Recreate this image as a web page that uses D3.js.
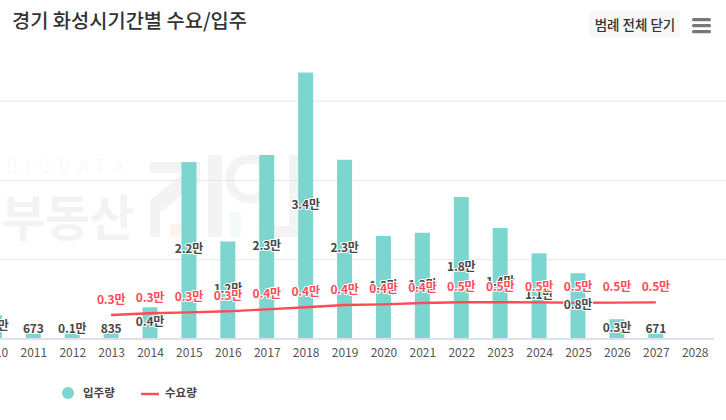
<!DOCTYPE html>
<html><head><meta charset="utf-8">
<script src="https://cdn.jsdelivr.net/npm/d3@7/dist/d3.min.js"></script>
<style>html,body{margin:0;padding:0;background:#fff}svg{display:block;font-family:"Noto Sans CJK KR","Noto Sans",sans-serif}</style>
</head><body><svg id="c" width="726" height="420"></svg>
<script>
const years=[2010,2011,2012,2013,2014,2015,2016,2017,2018,2019,2020,2021,2022,2023,2024,2025,2026,2027,2028];
const supply=[3000,673,700,835,4000,22300,12300,23200,33600,22600,13000,13400,17900,14000,10800,8300,2500,671,null];
const supplyLabels=["0.3만","673","0.1만","835","0.4만","2.2만","1.2만","2.3만","3.4만","2.3만","1.3만","1.3만","1.8만","1.4만","1.1만","0.8만","0.3만","671",""];
const demandYears=[2013,2014,2015,2016,2017,2018,2019,2020,2021,2022,2023,2024,2025,2026,2027];
const demand=[3030,3240,3360,3490,3740,4000,4290,4370,4540,4630,4630,4620,4580,4590,4620];
const demandLabels=["0.3만","0.3만","0.3만","0.3만","0.4만","0.4만","0.4만","0.4만","0.4만","0.5만","0.5만","0.5만","0.5만","0.5만","0.5만"];
const gridTicks=[10000,20000,30000];
const title="경기 화성시기간별 수요/입주";

const svg=d3.select("#c");
const x=d3.scalePoint().domain(years).range([-5.6,694.7]);
const y=d3.scaleLinear().domain([0,10000]).range([339,259.7]);

// watermark
const wm=svg.append("g").attr("fill","#f3f3f3");
wm.append("text").text("BIGDATA").attr("x",6).attr("y",173).attr("font-size",18).attr("letter-spacing",7.6).attr("fill","#f9f9f9");
wm.append("text").text("부동산").attr("x",1).attr("y",236).attr("font-size",49).attr("font-weight",700).attr("letter-spacing",-1);
// logo shapes
wm.append("rect").attr("x",150).attr("y",162).attr("width",50).attr("height",11);
wm.append("path").attr("d","M150 200 L185 172 L200 172 L200 182 L160 212 L160 237 L150 237 Z");
wm.append("rect").attr("x",208).attr("y",155).attr("width",14).attr("height",82);
wm.append("circle").attr("cx",250).attr("cy",179).attr("r",20).attr("fill","none").attr("stroke","#f3f3f3").attr("stroke-width",9);
wm.append("rect").attr("x",289).attr("y",155).attr("width",11).attr("height",82);
wm.append("rect").attr("x",258).attr("y",226).attr("width",42).attr("height",11);
wm.append("rect").attr("x",170).attr("y",224).attr("width",11).attr("height",13).attr("fill","#fdf3f1");
wm.append("rect").attr("x",230).attr("y",212).attr("width",11).attr("height",25).attr("fill","#f3fafa");

// grid
svg.append("g").selectAll("line").data(gridTicks).join("line")
 .attr("x1",0).attr("x2",726).attr("y1",d=>y(d)).attr("y2",d=>y(d)).attr("stroke","#e6e6e6").attr("stroke-width",1);

// bars
svg.append("g").selectAll("rect").data(years.map((d,i)=>[d,supply[i]]).filter(d=>d[1]!=null)).join("rect")
 .attr("x",d=>x(d[0])-7.5).attr("width",15).attr("y",d=>y(d[1])).attr("height",d=>y(0)-y(d[1]))
 .attr("fill","#7dd5cf");

// axis line and labels
const ax=svg.append("g").attr("transform",`translate(0,${y(0)})`)
 .call(d3.axisBottom(x).tickSize(0).tickPadding(9));
ax.select(".domain").remove();
ax.append("line").attr("x1",0).attr("x2",714).attr("stroke","#dde1ec").attr("stroke-width",2);
ax.selectAll(".tick text").attr("font-size",12).attr("fill","#555").attr("font-family",'"Noto Sans CJK KR"');

// line
const line=d3.line().x((d,i)=>x(demandYears[i])).y(d=>y(d));
svg.append("path").datum(demand).attr("d",line).attr("fill","none").attr("stroke","#ff4b55").attr("stroke-width",2.4);

// supply labels
svg.append("g").selectAll("text").data(supplyLabels.map((l,i)=>({l,i})).filter(d=>d.l)).join("text")
 .text(d=>d.l).attr("x",d=>x(years[d.i])).attr("y",d=>Math.min(y(supply[d.i]/2)-1.5,329)+4.3)
 .attr("text-anchor","middle").attr("font-size",12).attr("font-weight",700).attr("letter-spacing",-0.2)
 .attr("fill","#484848").attr("stroke","#fff").attr("stroke-width",2).attr("paint-order","stroke");

// demand labels
svg.append("g").selectAll("text").data(demandLabels).join("text")
 .text(d=>d).attr("x",(d,i)=>x(demandYears[i])).attr("y",(d,i)=>y(demand[i])-15.5+4.3)
 .attr("text-anchor","middle").attr("font-size",12).attr("font-weight",700).attr("letter-spacing",-0.2)
 .attr("fill","#ff4b55").attr("stroke","#fff").attr("stroke-width",2).attr("paint-order","stroke");

// title
svg.append("text").text(title).attr("x",12).attr("y",27.5).attr("font-size",19.8).attr("font-weight",500).attr("fill","#333");

// button
svg.append("rect").attr("x",589).attr("y",11).attr("width",91).attr("height",26).attr("rx",2).attr("fill","#f7f7f7");
svg.append("text").text("범례 전체 닫기").attr("x",635).attr("y",29.5).attr("text-anchor","middle").attr("font-size",13.5).attr("font-weight",500).attr("fill","#333");
svg.append("g").selectAll("rect").data([0,1,2]).join("rect")
 .attr("x",692).attr("y",d=>18+d*6).attr("width",19).attr("height",3.2).attr("rx",1.5).attr("fill","#777");

// legend
svg.append("circle").attr("cx",68).attr("cy",393).attr("r",6).attr("fill","#7dd5cf");
svg.append("text").text("입주량").attr("x",83).attr("y",397).attr("font-size",11.5).attr("font-weight",700).attr("fill","#444");
svg.append("line").attr("x1",141).attr("x2",159).attr("y1",394).attr("y2",394).attr("stroke","#ff4b55").attr("stroke-width",2.4);
svg.append("text").text("수요량").attr("x",165).attr("y",397).attr("font-size",11.5).attr("font-weight",700).attr("fill","#444");
</script></body></html>
